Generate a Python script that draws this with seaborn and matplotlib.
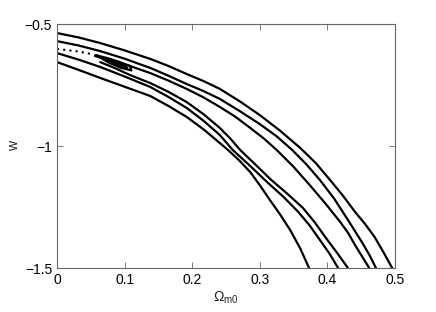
import numpy as np
import pandas as pd
import seaborn as sns
import matplotlib
matplotlib.use('Agg')
import matplotlib.pyplot as plt

# contour lines (Omega_m0, w), outer upper to outer lower
a_om = [0, 0.032, 0.064, 0.10, 0.138, 0.165, 0.192, 0.217, 0.241, 0.27, 0.300,
        0.33, 0.360, 0.383, 0.404, 0.423, 0.441, 0.456, 0.470, 0.483, 0.496]
a_w = [-0.537, -0.555, -0.578, -0.608, -0.643, -0.672, -0.705, -0.734, -0.766, -0.816, -0.873,
       -0.937, -1.008, -1.07, -1.139, -1.203, -1.270, -1.32, -1.373, -1.435, -1.5]

b_om = [0, 0.032, 0.064, 0.10, 0.138, 0.165, 0.192, 0.217, 0.241, 0.27, 0.300,
        0.325, 0.348, 0.369, 0.389, 0.41, 0.4305, 0.451, 0.462, 0.472]
b_w = [-0.570, -0.588, -0.611, -0.642, -0.680, -0.712, -0.746, -0.775, -0.807, -0.856, -0.910,
       -0.960, -1.016, -1.075, -1.139, -1.215, -1.303, -1.393, -1.445, -1.5]

c_om = [0.056, 0.08, 0.108, 0.138, 0.165, 0.192, 0.217, 0.241, 0.264, 0.286,
        0.306, 0.325, 0.35, 0.374, 0.397, 0.419, 0.431, 0.441, 0.452, 0.462]
c_w = [-0.631, -0.650, -0.672, -0.701, -0.732, -0.766, -0.801, -0.840, -0.880, -0.926,
       -0.969, -1.016, -1.085, -1.160, -1.235, -1.311, -1.357, -1.406, -1.455, -1.5]

d_om = [0.064, 0.086, 0.108, 0.138, 0.165, 0.192, 0.217, 0.241, 0.256, 0.271,
        0.294, 0.317, 0.341, 0.364, 0.382, 0.398, 0.415, 0.4305]
d_w = [-0.656, -0.681, -0.709, -0.742, -0.778, -0.820, -0.870, -0.926, -0.968, -1.016,
       -1.077, -1.139, -1.196, -1.254, -1.315, -1.377, -1.44, -1.5]

e_om = [0, 0.032, 0.064, 0.10, 0.138, 0.165, 0.192, 0.217, 0.241, 0.260,
        0.286, 0.311, 0.335, 0.357, 0.374, 0.389, 0.403, 0.416]
e_w = [-0.619, -0.646, -0.676, -0.715, -0.758, -0.799, -0.844, -0.897, -0.955, -1.016,
       -1.082, -1.148, -1.208, -1.270, -1.326, -1.385, -1.44, -1.5]

f_om = [0, 0.032, 0.064, 0.10, 0.138, 0.165, 0.192, 0.217, 0.241, 0.253,
        0.27, 0.286, 0.30, 0.315, 0.33, 0.345, 0.36, 0.373]
f_w = [-0.656, -0.688, -0.721, -0.757, -0.795, -0.836, -0.881, -0.932, -0.988, -1.016,
       -1.06, -1.107, -1.16, -1.221, -1.28, -1.344, -1.42, -1.5]

# thin inner region near the left edge
dot_om = [0, 0.03, 0.055]
dot_w = [-0.602, -0.612, -0.625]
loop1_om = [0.058, 0.075, 0.092, 0.108, 0.110, 0.095, 0.078, 0.058]
loop1_w = [-0.628, -0.640, -0.655, -0.672, -0.690, -0.680, -0.660, -0.628]
loop2_om = [0.070, 0.085, 0.100, 0.104, 0.090, 0.070]
loop2_w = [-0.640, -0.652, -0.668, -0.680, -0.668, -0.640]

xticks = [0, 0.1, 0.2, 0.3, 0.4, 0.5]
yticks = [-1.5, -1, -0.5]

sns.set_style('ticks')
plt.rcParams['font.family'] = ['Liberation Sans', 'DejaVu Sans']
plt.rcParams['mathtext.fontset'] = 'custom'
plt.rcParams['mathtext.rm'] = 'Liberation Sans'
plt.rcParams['mathtext.it'] = 'Liberation Sans'

fig = plt.figure(figsize=(4.36, 3.12), dpi=100)
ax = fig.add_axes([0.1307, 0.141, 0.775, 0.782])

for xs, ys in [(a_om, a_w), (b_om, b_w), (c_om, c_w), (d_om, d_w),
               (e_om, e_w), (f_om, f_w), (loop1_om, loop1_w), (loop2_om, loop2_w)]:
    sns.lineplot(x=xs, y=ys, sort=False, estimator=None, color='black',
                 linewidth=1.6, solid_joinstyle='round', ax=ax)
sns.lineplot(x=dot_om, y=dot_w, sort=False, estimator=None, color='black',
             linewidth=1.5, linestyle=(0, (1, 2)), ax=ax)

ax.set_xlim(0, 0.5)
ax.set_ylim(-1.5, -0.5)
ax.set_xticks(xticks)
ax.set_xticklabels(['0', '0.1', '0.2', '0.3', '0.4', '0.5'])
ax.set_yticks(yticks)
ax.set_yticklabels(['\u22121.5', '\u22121', '\u22120.5'])
ax.tick_params(direction='in', top=True, right=True, length=4, width=0.6,
               labelsize=10, colors='0.4', labelcolor='black')
for s in ax.spines.values():
    s.set_visible(True)
    s.set_color('0.4')
    s.set_linewidth(0.8)
ax.set_xlabel(r'$\Omega_{\rm m0}$', fontsize=10, labelpad=2)
ax.set_ylabel('w', fontsize=10, labelpad=3)

fig.savefig('out.png', dpi=100)
